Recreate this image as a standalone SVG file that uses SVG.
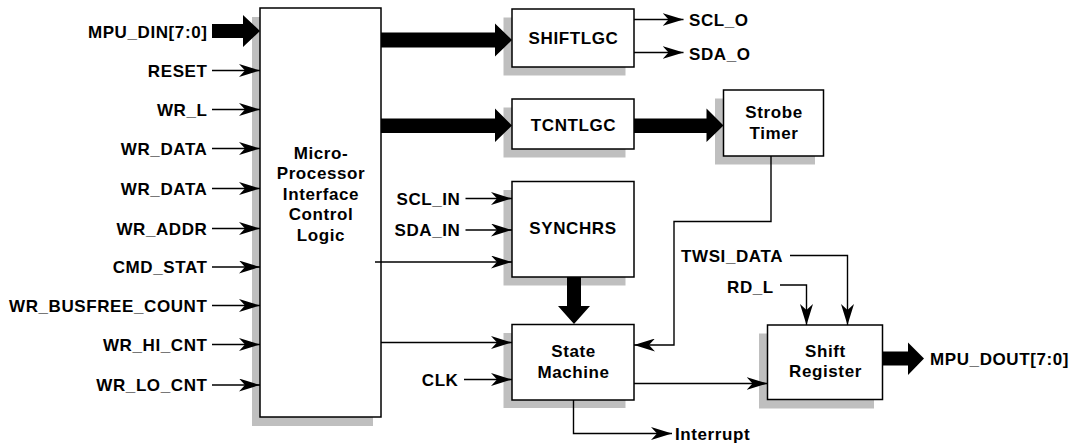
<svg xmlns="http://www.w3.org/2000/svg" width="1078" height="443" viewBox="0 0 1078 443">
  <style>
    text { font-family: "Liberation Sans", Arial, Helvetica, sans-serif; font-weight: bold; font-size: 17px; letter-spacing: 0.6px; fill: #000; }
    .lbl-r { text-anchor: end; }
    .mid { text-anchor: middle; }
    .box { fill: #fff; stroke: #000; stroke-width: 1.5; }
    .shadow { fill: #bfbfbf; stroke: none; }
    .wire { fill: none; stroke: #000; stroke-width: 1.4; marker-end: url(#arrow); }
    .bus { fill: #000; stroke: none; }
  </style>
  <defs>
    <!-- notched arrowhead used by all single-bit signals -->
    <marker id="arrow" markerUnits="userSpaceOnUse" viewBox="0 0 21 13" refX="21" refY="6.5" markerWidth="21" markerHeight="13" orient="auto">
      <path d="M0,0 L21,6.5 L0,13 L6,6.5 Z" fill="#000"/>
    </marker>
  </defs>
  <rect width="1078" height="443" fill="#fff"/>

  <!-- Microprocessor interface block -->
  <g id="mpi">
    <rect class="shadow" x="252" y="17" width="121" height="409"/>
    <rect class="box" x="260" y="8" width="121" height="409"/>
    <text class="mid" x="321" y="158.5">Micro-</text>
    <text class="mid" x="321" y="179">Processor</text>
    <text class="mid" x="321" y="199.5">Interface</text>
    <text class="mid" x="321" y="220">Control</text>
    <text class="mid" x="321" y="240.5">Logic</text>
  </g>

  <g id="shiftlgc">
    <rect class="shadow" x="503.5" y="17.5" width="122" height="58"/>
    <rect class="box" x="512" y="9" width="122" height="58"/>
    <text class="mid" x="573.5" y="44">SHIFTLGC</text>
  </g>

  <g id="tcntlgc">
    <rect class="shadow" x="503.5" y="107.5" width="122" height="50"/>
    <rect class="box" x="512" y="99" width="122" height="50"/>
    <text class="mid" x="573.5" y="130.5">TCNTLGC</text>
  </g>

  <g id="strobe-timer">
    <rect class="shadow" x="715" y="98.5" width="100" height="66"/>
    <rect class="box" x="723.5" y="90" width="100" height="66"/>
    <text class="mid" x="774" y="118">Strobe</text>
    <text class="mid" x="774" y="139">Timer</text>
  </g>

  <g id="synchrs">
    <rect class="shadow" x="503.5" y="190" width="122" height="95.5"/>
    <rect class="box" x="512" y="181.5" width="122" height="95.5"/>
    <text class="mid" x="573" y="233.5">SYNCHRS</text>
  </g>

  <g id="state-machine">
    <rect class="shadow" x="503.5" y="333" width="122" height="75"/>
    <rect class="box" x="512" y="324.5" width="122" height="75.5"/>
    <text class="mid" x="573.5" y="356.5">State</text>
    <text class="mid" x="573.5" y="378">Machine</text>
  </g>

  <g id="shift-register">
    <rect class="shadow" x="759" y="333.5" width="115" height="75"/>
    <rect class="box" x="767.5" y="325" width="115" height="74.5"/>
    <text class="mid" x="825.5" y="356.5">Shift</text>
    <text class="mid" x="825.5" y="377">Register</text>
  </g>

  <!-- Signal labels -->
  <g id="labels">
    <text class="lbl-r" x="207.5" y="37.5">MPU_DIN[7:0]</text>
    <text class="lbl-r" x="207.5" y="76.5">RESET</text>
    <text class="lbl-r" x="207.5" y="115.5">WR_L</text>
    <text class="lbl-r" x="207.5" y="154.5">WR_DATA</text>
    <text class="lbl-r" x="207.5" y="194.5">WR_DATA</text>
    <text class="lbl-r" x="207.5" y="234.5">WR_ADDR</text>
    <text class="lbl-r" x="207.5" y="273">CMD_STAT</text>
    <text class="lbl-r" x="207.5" y="311.5">WR_BUSFREE_COUNT</text>
    <text class="lbl-r" x="207.5" y="350.5">WR_HI_CNT</text>
    <text class="lbl-r" x="207.5" y="391">WR_LO_CNT</text>
    <text x="689" y="25.5">SCL_O</text>
    <text x="689" y="59.5">SDA_O</text>
    <text class="lbl-r" x="460.5" y="204.5">SCL_IN</text>
    <text class="lbl-r" x="460.5" y="236">SDA_IN</text>
    <text class="lbl-r" x="458.5" y="385.5">CLK</text>
    <text x="675" y="439.5">Interrupt</text>
    <text x="681" y="261.5">TWSI_DATA</text>
    <text x="727" y="292.5">RD_L</text>
    <text x="930" y="365">MPU_DOUT[7:0]</text>
  </g>

  <!-- Connectors -->
  <g id="connectors">
    <!-- buses -->
    <path class="bus" d="M212,24 H243 V15 L260,31 L243,47 V38 H212 Z"/>
    <path class="bus" d="M381,32.5 H495 V23.5 L512,40 L495,56.5 V47.5 H381 Z"/>
    <path class="bus" d="M381,118.5 H495 V108.5 L512,125.5 L495,142 V133 H381 Z"/>
    <path class="bus" d="M634,118.5 H706.5 V108.5 L723.5,125.5 L706.5,142 V133 H634 Z"/>
    <path class="bus" d="M567,277 H581 V306 H590 L574,324 L558,306 H567 Z"/>
    <path class="bus" d="M882.5,351.5 H908 V342.5 L924,358.5 L908,375 V365.5 H882.5 Z"/>

    <!-- control inputs -->
    <line class="wire" x1="212" y1="70.5" x2="260" y2="70.5"/>
    <line class="wire" x1="212" y1="109.5" x2="260" y2="109.5"/>
    <line class="wire" x1="212" y1="148.5" x2="260" y2="148.5"/>
    <line class="wire" x1="212" y1="188.5" x2="260" y2="188.5"/>
    <line class="wire" x1="212" y1="228.5" x2="260" y2="228.5"/>
    <line class="wire" x1="212" y1="267" x2="260" y2="267"/>
    <line class="wire" x1="212" y1="305.5" x2="260" y2="305.5"/>
    <line class="wire" x1="212" y1="344.5" x2="260" y2="344.5"/>
    <line class="wire" x1="212" y1="385" x2="260" y2="385"/>

    <!-- SHIFTLGC outputs -->
    <line class="wire" x1="634" y1="19.5" x2="683.5" y2="19.5"/>
    <line class="wire" x1="634" y1="52.5" x2="683.5" y2="52.5"/>

    <!-- SYNCHRS inputs -->
    <line class="wire" x1="465.5" y1="198.5" x2="512" y2="198.5"/>
    <line class="wire" x1="465.5" y1="230" x2="512" y2="230"/>
    <line class="wire" x1="375" y1="262" x2="512" y2="262"/>

    <!-- State machine inputs -->
    <line class="wire" x1="381" y1="342.5" x2="512" y2="342.5"/>
    <line class="wire" x1="464" y1="379.5" x2="512" y2="379.5"/>
    <polyline class="wire" points="771,156 771,221.5 674,221.5 674,345 634,345"/>

    <!-- State machine outputs -->
    <line class="wire" x1="634" y1="383.5" x2="767.5" y2="383.5"/>
    <polyline class="wire" points="573.5,400 573.5,433.5 672,433.5"/>

    <!-- Shift register inputs -->
    <polyline class="wire" points="790,255.5 847.5,255.5 847.5,325"/>
    <polyline class="wire" points="780,285 806.5,285 806.5,325"/>
  </g>
</svg>
